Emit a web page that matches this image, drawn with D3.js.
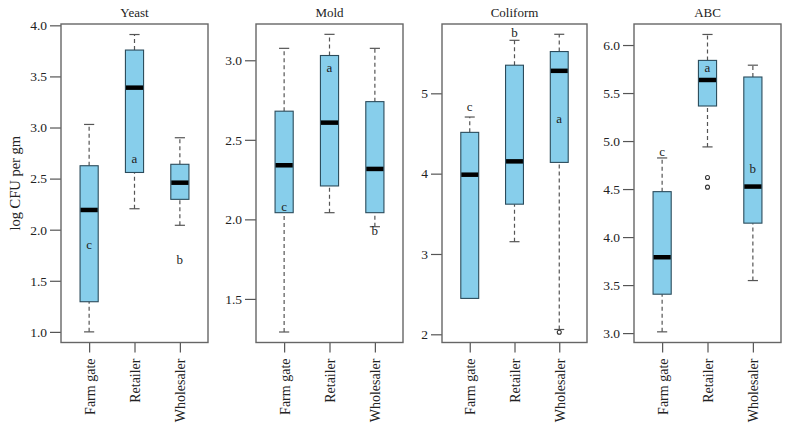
<!DOCTYPE html>
<html>
<head>
<meta charset="utf-8">
<script src="https://cdn.jsdelivr.net/npm/d3@7"></script>
<style>
  body { margin: 0; background: #fff; }
  svg text { font-family: "Liberation Serif", "DejaVu Serif", serif; fill: #222; }
</style>
</head>
<body>
<div id="chart"></div>
<script>
// categories
const groups = ["Farm gate", "Retailer", "Wholesaler"];
const panelNames = ["Yeast", "Mold", "Coliform", "ABC"];

// box stats per group: [lower whisker, Q1, median, Q3, upper whisker]
const yeastStats = [[1.00, 1.295, 2.193, 2.626, 3.03], [2.205, 2.56, 3.39, 3.758, 3.91], [2.043, 2.297, 2.46, 2.64, 2.90]];
const moldStats = [[1.292, 2.042, 2.34, 2.68, 3.075], [2.042, 2.21, 2.608, 3.03, 3.163], [1.954, 2.042, 2.317, 2.74, 3.075]];
const coliformStats = [[2.447, 2.447, 3.987, 4.514, 4.705], [3.153, 3.62, 4.153, 5.35, 5.66], [2.06, 4.14, 5.28, 5.52, 5.735]];
const abcStats = [[3.013, 3.405, 3.79, 4.473, 4.824], [4.939, 5.365, 5.636, 5.84, 6.11], [3.547, 4.145, 4.526, 5.667, 5.79]];

// outliers per group
const yeastOutliers = [[], [], []];
const moldOutliers = [[], [], []];
const coliformOutliers = [[], [], [2.025]];
const abcOutliers = [[], [4.62, 4.52], []];

// significance letters and their heights
const yeastLetters = ["c", "a", "b"];
const yeastLetterY = [1.857, 2.70, 1.71];
const moldLetters = ["c", "a", "b"];
const moldLetterY = [2.084, 2.954, 1.927];
const coliformLetters = ["c", "b", "a"];
const coliformLetterY = [4.83, 5.76, 4.69];
const abcLetters = ["c", "a", "b"];
const abcLetterY = [4.89, 5.77, 4.71];

// y axes
const yeastDomain = [0.896, 4.013];
const moldDomain = [1.226, 3.228];
const coliformDomain = [1.898, 5.863];
const abcDomain = [2.902, 6.219];
const yeastTicks = [1.0, 1.5, 2.0, 2.5, 3.0, 3.5, 4.0];
const moldTicks = [1.5, 2.0, 2.5, 3.0];
const coliformTicks = [2, 3, 4, 5];
const abcTicks = [3.0, 3.5, 4.0, 4.5, 5.0, 5.5, 6.0];

const panels = [
  { name: panelNames[0], stats: yeastStats, out: yeastOutliers, letters: yeastLetters, letterY: yeastLetterY, domain: yeastDomain, ticks: yeastTicks, fmt: ".1f" },
  { name: panelNames[1], stats: moldStats, out: moldOutliers, letters: moldLetters, letterY: moldLetterY, domain: moldDomain, ticks: moldTicks, fmt: ".1f" },
  { name: panelNames[2], stats: coliformStats, out: coliformOutliers, letters: coliformLetters, letterY: coliformLetterY, domain: coliformDomain, ticks: coliformTicks, fmt: "d" },
  { name: panelNames[3], stats: abcStats, out: abcOutliers, letters: abcLetters, letterY: abcLetterY, domain: abcDomain, ticks: abcTicks, fmt: ".1f" }
];

const width = 790, height = 428;
const plotTop = 24, plotBottom = 342.5;
const lefts = [61, 256, 442, 634];
const rights = [208, 403, 587, 781];

const svg = d3.select("#chart").append("svg")
  .attr("width", width)
  .attr("height", height);

// y axis title
svg.append("text")
  .attr("transform", `translate(15, ${(plotTop + plotBottom) / 2}) rotate(-90)`)
  .attr("text-anchor", "middle")
  .attr("dominant-baseline", "central")
  .style("font-size", "14.5px")
  .text("log CFU per gm");

panels.forEach((p, i) => {
  const x = d3.scaleLinear().domain([0.38, 3.62]).range([lefts[i], rights[i]]);
  const y = d3.scaleLinear().domain(p.domain).range([plotBottom, plotTop]);
  const bw = x(1.4) - x(1);
  const cap = bw * 0.56;
  const g = svg.append("g");

  // title
  g.append("text")
    .attr("x", (lefts[i] + rights[i]) / 2)
    .attr("y", 17)
    .attr("text-anchor", "middle")
    .style("font-size", "13px")
    .text(p.name);

  // y axis
  const ya = g.append("g")
    .attr("transform", `translate(${lefts[i]},0)`)
    .call(d3.axisLeft(y).tickValues(p.ticks).tickFormat(d3.format(p.fmt)).tickSize(11).tickPadding(3));
  ya.select(".domain").remove();
  ya.selectAll(".tick line").attr("stroke", "#555").attr("stroke-width", 1.2);
  ya.selectAll(".tick text").style("font-size", "13.5px").style("font-family", "Liberation Serif, serif").attr("fill", "#222");

  // x axis
  const xa = g.append("g")
    .attr("transform", `translate(0,${plotBottom})`)
    .call(d3.axisBottom(x).tickValues([1, 2, 3]).tickFormat((d) => groups[d - 1]).tickSize(10).tickPadding(6));
  xa.select(".domain").remove();
  xa.selectAll(".tick line").attr("stroke", "#555").attr("stroke-width", 1.2);
  xa.selectAll(".tick text")
    .style("font-size", "14px")
    .style("font-family", "Liberation Serif, serif")
    .attr("fill", "#222")
    .attr("text-anchor", "end")
    .attr("dy", "0.35em")
    .attr("transform", "translate(0,16) rotate(-90)")
    .attr("y", 0)
    .attr("x", 0);

  // boxes
  p.stats.forEach((s, j) => {
    const cx = x(j + 1);
    // whiskers
    [[s[0], s[1]], [s[3], s[4]]].forEach(([a, b]) => {
      if (a === b) return;
      g.append("line")
        .attr("x1", cx).attr("x2", cx)
        .attr("y1", y(a)).attr("y2", y(b))
        .attr("stroke", "#555").attr("stroke-width", 1.2)
        .attr("stroke-dasharray", "4,3");
    });
    [s[0], s[4]].forEach((v, k) => {
      if ((k === 0 && s[0] === s[1]) || (k === 1 && s[4] === s[3])) return;
      g.append("line")
        .attr("x1", cx - cap / 2).attr("x2", cx + cap / 2)
        .attr("y1", y(v)).attr("y2", y(v))
        .attr("stroke", "#555").attr("stroke-width", 1.2);
    });
    g.append("rect")
      .attr("x", cx - bw / 2)
      .attr("y", y(s[3]))
      .attr("width", bw)
      .attr("height", y(s[1]) - y(s[3]))
      .attr("fill", "#87ceeb")
      .attr("stroke", "#2b4b5b")
      .attr("stroke-width", 1.1);
    g.append("line")
      .attr("x1", cx - bw / 2 + 0.5).attr("x2", cx + bw / 2 - 0.5)
      .attr("y1", y(s[2])).attr("y2", y(s[2]))
      .attr("stroke", "#000").attr("stroke-width", 4.5);

    p.out[j].forEach((v) => {
      g.append("circle")
        .attr("cx", cx).attr("cy", y(v)).attr("r", 2)
        .attr("fill", "none").attr("stroke", "#333").attr("stroke-width", 1.1);
    });

    g.append("text")
      .attr("x", cx)
      .attr("y", y(p.letterY[j]))
      .attr("text-anchor", "middle")
      .attr("dominant-baseline", "central")
      .style("font-size", "13px")
      .text(p.letters[j]);
  });

  // frame
  g.append("rect")
    .attr("x", lefts[i]).attr("y", plotTop)
    .attr("width", rights[i] - lefts[i])
    .attr("height", plotBottom - plotTop)
    .attr("fill", "none")
    .attr("stroke", "#666")
    .attr("stroke-width", 1.4);
});
</script>
</body>
</html>
